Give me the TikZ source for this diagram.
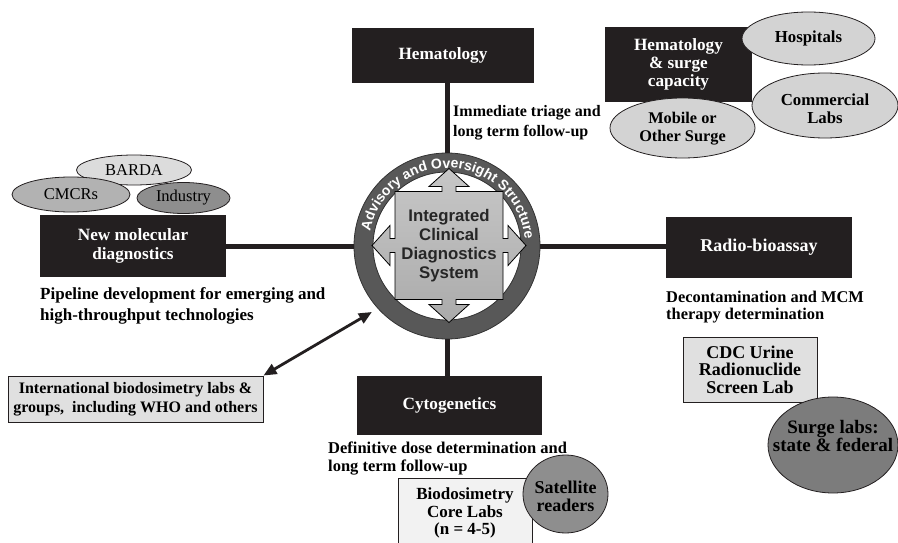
\documentclass[tikz,border=0pt]{standalone}
\usepackage{fontspec}
\setmainfont{Liberation Serif}
\setsansfont{Liberation Sans}
\usetikzlibrary{arrows.meta,decorations.text,shapes.geometric,calc}
\definecolor{boxblack}{HTML}{231F20}
\definecolor{ringgray}{HTML}{585858}
\definecolor{ringedge}{HTML}{333333}
\definecolor{textdark}{HTML}{262626}
\definecolor{lightfill}{HTML}{E0E0E0}
\definecolor{paler}{HTML}{F2F2F2}
\definecolor{ovlight}{HTML}{D3D3D3}
\definecolor{ovbarda}{HTML}{DCDCDC}
\definecolor{ovmid}{HTML}{B2B2B2}
\definecolor{ovdark}{HTML}{8E8E8E}
\definecolor{ovdarker}{HTML}{7C7C7C}
\begin{document}
\begin{tikzpicture}[x=1pt,y=-1pt,
  blackbox/.style={rectangle, fill=boxblack, text=white, font=\bfseries\fontsize{17.2}{19}\selectfont, align=center, inner sep=0pt},
  lightbox/.style={rectangle, draw=boxblack, line width=1pt, text=black, font=\bfseries\fontsize{16.5}{18}\selectfont, align=center, inner sep=0pt},
  ovalshape/.style={ellipse, draw=boxblack, line width=0.8pt, inner sep=0pt},
  ovaltext/.style={text=black, font=\bfseries\fontsize{16.8}{18}\selectfont, align=center, inner sep=0pt},
  plaintext/.style={text=black, font=\fontsize{16.5}{18}\selectfont, align=center, inner sep=0pt},
  caption/.style={anchor=north west, align=left, inner sep=0pt, text=black},
  conn/.style={draw=boxblack, line width=5pt},
  dblarrow/.style={draw=boxblack, line width=2.8pt, {Triangle[length=13pt,width=11pt]}-{Triangle[length=13pt,width=11pt]}},
]
\clip (0,0) rectangle (898,543);
\fill[white] (0,0) rectangle (898,543);

% ring
\node[circle, draw=ringgray, line width=19pt, minimum size=167pt, inner sep=0pt, outer sep=9.5pt] (ring) at (447,246) {};
\draw[ringedge, line width=0.8pt] (ring.center) circle[radius=93pt];
\draw[ringedge, line width=0.8pt] (ring.center) circle[radius=74pt];
\path[decorate, decoration={text along path, text={|\sffamily\bfseries\fontsize{14}{16}\selectfont|Advisory and Oversight Structure}, text align=center, text color=white}]
  ($(ring.center)+(185:78pt)$) arc[start angle=185, end angle=-11, radius=78pt];

% four-way arrow
\begin{scope}[shift={(449,245.5)}]
\shadedraw[draw=black, line width=0.8pt, top color=gray!44, bottom color=gray!66]
  (0,-77) -- (20,-59) -- (7,-59) -- (7,-54) -- (54,-54) -- (54,-7) -- (59,-7) -- (59,-20) -- (77,0)
  -- (59,20) -- (59,7) -- (54,7) -- (54,54) -- (7,54) -- (7,59) -- (20,59) -- (0,77)
  -- (-20,59) -- (-7,59) -- (-7,54) -- (-54,54) -- (-54,7) -- (-59,7) -- (-59,20) -- (-77,0)
  -- (-59,-20) -- (-59,-7) -- (-54,-7) -- (-54,-54) -- (-7,-54) -- (-7,-59) -- (-20,-59) -- cycle;
\end{scope}
\node[font=\sffamily\bfseries\fontsize{16.8}{19.2}\selectfont, text=textdark, align=center, inner sep=0pt] (ctext) at (449,245.5)
  {Integrated\\Clinical\\Diagnostics\\System};

% main boxes
\node[blackbox, minimum width=182pt, minimum height=55pt] (hema) at (443,55.5) {Hematology};
\node[blackbox, minimum width=186pt, minimum height=62pt] (molec) at (133,246) {New molecular\\diagnostics};
\node[blackbox, minimum width=186pt, minimum height=61pt, font=\bfseries\fontsize{18}{19}\selectfont] (radio) at (759,247) {Radio-bioassay};
\node[blackbox, minimum width=185pt, minimum height=59pt] (cyto) at (449.5,405.5) {Cytogenetics};
\node[blackbox, minimum width=147pt, minimum height=75pt, font=\bfseries\fontsize{17.2}{18}\selectfont] (hsurge) at (678.5,64.5) {Hematology\\\& surge\\capacity};

% connectors
\draw[conn] (ring.north) -- (ring.north |- hema.south);
\draw[conn] (ring.south) -- (ring.south |- cyto.north);
\draw[conn] (molec.east) -- (ring.west);
\draw[conn] (ring.east) -- (ring.east -| radio.west);

% captions
\node[caption, font=\bfseries\fontsize{16}{20}\selectfont] (triage) at (453,105) {Immediate triage and\\long term follow-up};
\node[caption, font=\bfseries\fontsize{17}{21.5}\selectfont] (pipe) at (40,287) {Pipeline development for emerging and\\high-throughput technologies};
\node[caption, font=\bfseries\fontsize{16.4}{17}\selectfont] (decon) at (666,291) {Decontamination and MCM\\therapy determination};
\node[caption, font=\bfseries\fontsize{16.5}{18}\selectfont] (defdose) at (328,442) {Definitive dose determination and\\long term follow-up};

% molecular ovals
\node[ovalshape, fill=ovbarda, minimum width=115pt, minimum height=30pt] (barda) at (134,170) {};
\node[plaintext] (bardat) at (barda) {BARDA};
\node[ovalshape, fill=ovmid, minimum width=118pt, minimum height=35pt] (cmcr) at (71,194.5) {};
\node[plaintext] (cmcrt) at (cmcr) {CMCRs};
\node[ovalshape, fill=ovdark, minimum width=93pt, minimum height=31pt] (industry) at (183.5,198) {};
\node[plaintext] (industryt) at (industry) {Industry};

% hematology surge ovals
\node[ovalshape, fill=ovlight, minimum width=133pt, minimum height=53pt] (hosp) at (808.5,38.5) {};
\node[ovaltext] (hospt) at (hosp) {Hospitals};
\node[ovalshape, fill=ovlight, minimum width=146pt, minimum height=65pt] (comm) at (825,105.5) {};
\node[ovaltext] (commt) at (825,109) {Commercial\\Labs};
\node[ovalshape, fill=ovlight, minimum width=145pt, minimum height=60pt] (mobile) at (682.5,128) {};
\node[ovaltext, font=\bfseries\fontsize{16.3}{18}\selectfont] (mobilet) at (682.5,129) {Mobile or\\Other Surge};

% light boxes
\node[lightbox, fill=lightfill, minimum width=255pt, minimum height=46pt, font=\bfseries\fontsize{16}{19}\selectfont] (intl) at (135.5,399) {International biodosimetry labs \&\\groups,\ \ including WHO and others};
\node[lightbox, fill=lightfill, minimum width=134pt, minimum height=65pt, font=\bfseries\fontsize{18}{17.5}\selectfont] (cdc) at (750,369.5) {CDC Urine\\Radionuclide\\Screen Lab};
\node[lightbox, fill=paler, minimum width=134pt, minimum height=70pt, font=\bfseries\fontsize{17}{17.5}\selectfont] (bio) at (465,513) {Biodosimetry\\Core Labs\\(n = 4-5)};

% dark ovals
\node[ovalshape, fill=ovdark, minimum width=85pt, minimum height=78pt] (sat) at (565.5,494) {};
\node[ovaltext, font=\bfseries\fontsize{18}{18}\selectfont] (satt) at (565.5,496) {Satellite\\readers};
\node[ovalshape, fill=ovdarker, minimum width=130pt, minimum height=96pt] (surge) at (833,445) {};
\node[ovaltext, font=\bfseries\fontsize{19}{18.5}\selectfont] (surget) at (833,436) {Surge labs:\\state \& federal};

% double arrow
\coordinate (ringarrow) at ($(ring.center)+(221.3:100pt)$);
\draw[dblarrow] (intl.north east) -- (ringarrow);
\end{tikzpicture}
\end{document}
